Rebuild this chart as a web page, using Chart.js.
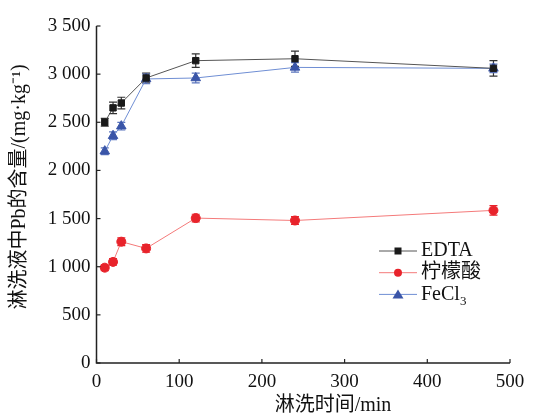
<!DOCTYPE html>
<html>
<head>
<meta charset="utf-8">
<script src="https://cdn.jsdelivr.net/npm/chart.js@4"></script>
<style>
  html, body { margin: 0; padding: 0; background: #fff; }
  #wrap { width: 535px; height: 419px; position: relative; }
</style>
</head>
<body>
<div id="wrap"><canvas id="leachChart"></canvas></div>
<script>
// ── Data ───────────────────────────────────────────────────────────────
const times = [10, 20, 30, 60, 120, 240, 480];
const edtaValues = [2500, 2650, 2700, 2960, 3140, 3160, 3060];
const edtaErrors = [40, 60, 60, 50, 70, 80, 80];
const citricValues = [990, 1050, 1260, 1190, 1505, 1480, 1585];
const citricErrors = [30, 35, 40, 40, 40, 40, 50];
const fecl3Values = [2200, 2360, 2460, 2950, 2960, 3070, 3060];
const fecl3Errors = [35, 40, 40, 50, 50, 50, 45];
const xTicks = [0, 100, 200, 300, 400, 500];
const yTicks = [0, 500, 1000, 1500, 2000, 2500, 3000, 3500];

const SERIF = '"Liberation Serif", "DejaVu Serif", "Noto Sans CJK SC", serif';
const CJK = '"Liberation Serif", "Noto Sans CJK SC", serif';
const INK = '#111';

const toPoints = (vals, errs) => vals.map((v, i) => ({ x: times[i], y: v, err: errs[i] }));

// thousands with a space: 3500 -> "3 500"
const fmt = v => v >= 1000 ? Math.floor(v / 1000) + ' ' + String(v % 1000).padStart(3, '0') : String(v);

// ── Error bars, inward ticks, titles and legend ───────────────────────────
const extras = {
    id: 'extras',
    beforeDatasetsDraw(chart) {
        const { ctx, scales: { x, y } } = chart;
        ctx.save();
        chart.data.datasets.forEach(ds => {
            ctx.strokeStyle = ds.errColor;
            ctx.lineWidth = 1.2;
            ds.data.forEach(p => {
                const px = x.getPixelForValue(p.x);
                const top = y.getPixelForValue(p.y + p.err);
                const bot = y.getPixelForValue(p.y - p.err);
                ctx.beginPath();
                ctx.moveTo(px, top); ctx.lineTo(px, bot);
                ctx.moveTo(px - 4, top); ctx.lineTo(px + 4, top);
                ctx.moveTo(px - 4, bot); ctx.lineTo(px + 4, bot);
                ctx.stroke();
            });
        });
        ctx.restore();
    },
    afterDraw(chart) {
        const { ctx, chartArea: a, scales: { x, y } } = chart;
        ctx.save();
        // axes
        ctx.strokeStyle = '#222';
        ctx.lineWidth = 1.5;
        ctx.beginPath();
        ctx.moveTo(a.left, a.top); ctx.lineTo(a.left, a.bottom); ctx.lineTo(a.right, a.bottom);
        ctx.stroke();
        ctx.lineWidth = 1.2;
        yTicks.forEach(t => {
            const py = y.getPixelForValue(t);
            ctx.beginPath(); ctx.moveTo(a.left, py); ctx.lineTo(a.left + 4, py); ctx.stroke();
        });
        xTicks.forEach(t => {
            const px = x.getPixelForValue(t);
            ctx.beginPath(); ctx.moveTo(px, a.bottom); ctx.lineTo(px, a.bottom - 4); ctx.stroke();
        });

        // axis titles
        ctx.fillStyle = INK;
        ctx.font = '20px ' + CJK;
        ctx.textAlign = 'center';
        ctx.textBaseline = 'middle';
        ctx.fillText('淋洗时间/min', 333, 406);
        ctx.translate(20, 187);
        ctx.rotate(-Math.PI / 2);
        ctx.fillText('淋洗液中Pb的含量/(mg·kg⁻¹)', 0, 0);
        ctx.setTransform(1, 0, 0, 1, 0, 0);

        // legend
        const lx = 379, tx = 421;
        chart.data.datasets.forEach((ds, i) => {
            const ly = 251 + i * 21.7;
            ctx.strokeStyle = ds.borderColor;
            ctx.lineWidth = 1;
            ctx.beginPath(); ctx.moveTo(lx, ly); ctx.lineTo(lx + 38, ly); ctx.stroke();
            ctx.fillStyle = ds.pointBackgroundColor;
            const mx = lx + 19;
            if (ds.pointStyle === 'rect') {
                ctx.fillRect(mx - 3.5, ly - 3.5, 7, 7);
            } else if (ds.pointStyle === 'circle') {
                ctx.beginPath(); ctx.arc(mx, ly, 4, 0, Math.PI * 2); ctx.fill();
            } else {
                ctx.beginPath(); ctx.moveTo(mx, ly - 5); ctx.lineTo(mx + 5.5, ly + 4); ctx.lineTo(mx - 5.5, ly + 4); ctx.closePath(); ctx.fill();
            }
            ctx.fillStyle = INK;
            ctx.textAlign = 'left';
            ctx.font = '20px ' + CJK;
            if (ds.label === 'FeCl3') {
                ctx.fillText('FeCl', tx, ly);
                const w = ctx.measureText('FeCl').width;
                ctx.font = '13px ' + SERIF;
                ctx.fillText('3', tx + w, ly + 7);
            } else {
                ctx.fillText(ds.label, tx, ly);
            }
        });
        ctx.restore();
    }
};

new Chart(document.getElementById('leachChart'), {
    type: 'line',
    data: {
        datasets: [
            {
                label: 'EDTA',
                data: toPoints(edtaValues, edtaErrors),
                borderColor: '#555',
                borderWidth: 1,
                pointStyle: 'rect',
                pointRadius: 4.5,
                pointBackgroundColor: '#1a1a1a',
                pointBorderColor: '#1a1a1a',
                errColor: '#333'
            },
            {
                label: '柠檬酸',
                data: toPoints(citricValues, citricErrors),
                borderColor: '#f47a7a',
                borderWidth: 1,
                pointStyle: 'circle',
                pointRadius: 4.5,
                pointBackgroundColor: '#e8232b',
                pointBorderColor: '#e8232b',
                errColor: '#e8232b'
            },
            {
                label: 'FeCl3',
                data: toPoints(fecl3Values, fecl3Errors),
                borderColor: '#6f8ed4',
                borderWidth: 1,
                pointStyle: 'triangle',
                pointRadius: 5.5,
                pointBackgroundColor: '#3a55a8',
                pointBorderColor: '#3a55a8',
                errColor: '#5a74bd'
            }
        ]
    },
    options: {
        responsive: true,
        maintainAspectRatio: false,
        animation: false,
        layout: { padding: { left: 0, right: 25, top: 26, bottom: 0 } },
        plugins: { legend: { display: false }, tooltip: { enabled: false } },
        scales: {
            x: {
                type: 'linear',
                min: 0, max: 500,
                afterBuildTicks: s => { s.ticks = xTicks.map(v => ({ value: v })); },
                afterFit: s => { s.height = 56; },
                border: { display: false },
                grid: { display: false, drawTicks: false },
                ticks: { color: INK, padding: 8, font: { family: SERIF, size: 19 } }
            },
            y: {
                min: 0, max: 3500,
                afterBuildTicks: s => { s.ticks = yTicks.map(v => ({ value: v })); },
                afterFit: s => { s.width = 96.5; },
                border: { display: false },
                grid: { display: false, drawTicks: false },
                ticks: { color: INK, padding: 6, callback: v => fmt(v), font: { family: SERIF, size: 19 } }
            }
        }
    },
    plugins: [extras]
});
</script>
</body>
</html>
